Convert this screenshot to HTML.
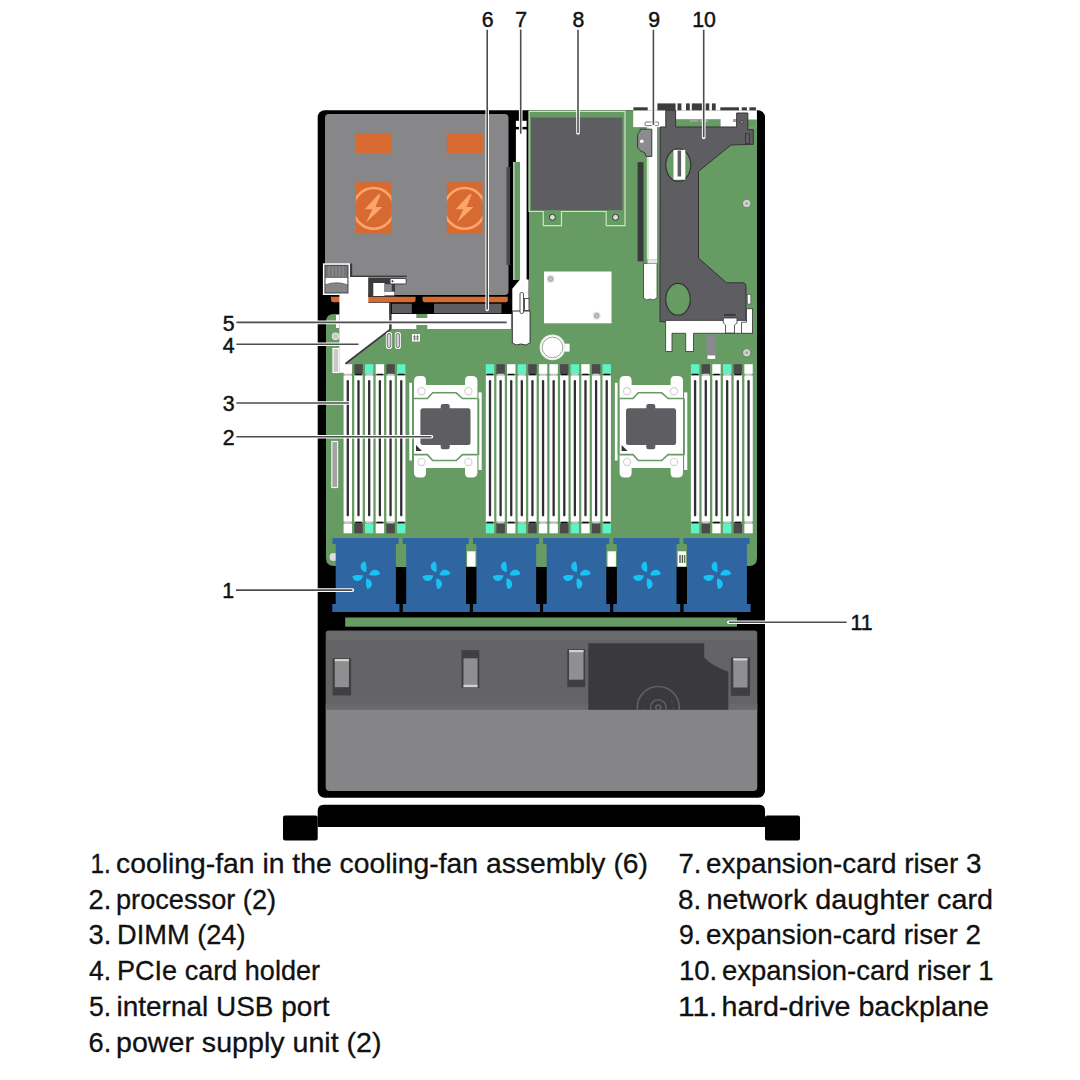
<!DOCTYPE html>
<html><head><meta charset="utf-8"><style>
html,body{margin:0;padding:0;background:#fff;}
body{width:1080px;height:1080px;overflow:hidden;font-family:"Liberation Sans",sans-serif;}
svg{display:block;}
</style></head><body>
<svg width="1080" height="1080" viewBox="0 0 1080 1080">
<rect width="1080" height="1080" fill="#fff"/>
<rect x="317.7" y="110.3" width="447.3" height="687.5" rx="7" fill="#000"/>
<rect x="529" y="110.3" width="228" height="210" fill="#679b64"/>
<path d="M326 322 Q326 314 334 314 L757 314 L757 558 Q757 566 749 566 L334 566 Q326 566 326 558 Z" fill="#679b64"/>
<rect x="325" y="114" width="183.5" height="181" rx="4" fill="#878689"/>
<rect x="506.50" y="167.00" width="3.50" height="98.00" fill="#4a4a4c" />
<rect x="355.80" y="133.00" width="36.00" height="20.00" fill="#d66a30" />
<rect x="355.80" y="182.20" width="35.60" height="51.40" fill="#d66a30" />
<clipPath id="c355"><rect x="355.8" y="182.2" width="35.6" height="51.4"/></clipPath>
<circle cx="373.7" cy="208.4" r="20.3" fill="none" stroke="#fba56d" stroke-width="2.5" clip-path="url(#c355)"/>
<polygon points="378.3,194.6 380.7,194.3 375.5,206.9 382.4,206.9 366.1,222.5 372.3,209.2 364.7,209.2" fill="#fba56d"/>
<rect x="446.80" y="133.00" width="36.00" height="20.00" fill="#d66a30" />
<rect x="446.80" y="182.20" width="35.60" height="51.40" fill="#d66a30" />
<clipPath id="c446"><rect x="446.8" y="182.2" width="35.6" height="51.4"/></clipPath>
<circle cx="464.7" cy="208.4" r="20.3" fill="none" stroke="#fba56d" stroke-width="2.5" clip-path="url(#c446)"/>
<polygon points="469.3,194.6 471.7,194.3 466.5,206.9 473.4,206.9 457.1,222.5 463.3,209.2 455.7,209.2" fill="#fba56d"/>
<path d="M331 296.7 L415.6 296.7 L415.6 300 Q415.6 302.3 413 302.3 L333.5 302.3 Q331 302.3 331 300 Z" fill="#d66a30"/>
<path d="M422.5 296.7 L507.8 296.7 L507.8 300 Q507.8 302.3 505 302.3 L425 302.3 Q422.5 302.3 422.5 300 Z" fill="#d66a30"/>
<rect x="391.90" y="303.70" width="20.00" height="9.60" fill="#5e5d61" />
<rect x="434.00" y="303.70" width="67.50" height="9.60" fill="#5e5d61" />
<rect x="391.90" y="314.00" width="119.00" height="15.00" fill="#fff" />
<rect x="416.30" y="314.00" width="11.00" height="4.00" fill="#679b64" />
<rect x="416.30" y="325.00" width="11.00" height="4.00" fill="#679b64" />
<path d="M339.4 276.7 L368.3 276.7 L368.3 302.8 L389.4 302.8 L389.4 329.4 L346.1 362.8 L346.1 372.8 L339.4 372.8 Z" fill="#fff"/>
<path d="M390.2 302.8 L390.2 329.4 L346.1 363.2 L346.1 372" stroke="#3c3c3e" stroke-width="1.8" fill="none"/>
<rect x="322.90" y="263.30" width="27.10" height="31.70" fill="#fff" />
<rect x="324.40" y="264.80" width="24.10" height="28.70" fill="#505052" />
<rect x="325.60" y="266.00" width="21.70" height="26.30" fill="#767678" />
<rect x="328.50" y="266.50" width="1.20" height="10.00" fill="#8e8e90" />
<rect x="332.00" y="266.50" width="1.20" height="10.00" fill="#8e8e90" />
<rect x="335.50" y="266.50" width="1.20" height="10.00" fill="#8e8e90" />
<rect x="339.00" y="266.50" width="1.20" height="10.00" fill="#8e8e90" />
<rect x="342.50" y="266.50" width="1.20" height="10.00" fill="#8e8e90" />
<path d="M325.6 277.9 L347.3 277.9 L347.3 284.2 Q336.5 280.2 325.6 284.2 Z" fill="#fff"/>
<path d="M325.6 285.4 Q336.5 281.4 347.3 285.4 L347.3 292.3 L325.6 292.3 Z" fill="#858587"/>
<rect x="350.00" y="263.50" width="2.20" height="12.50" fill="#3c3c3e" />
<rect x="350.00" y="275.60" width="56.70" height="1.40" fill="#3c3c3e" />
<rect x="368.30" y="278.00" width="26.70" height="18.70" fill="#3c3c3e" />
<rect x="373.30" y="283.00" width="11.20" height="13.00" fill="#fff" />
<rect x="384.30" y="291.70" width="10.00" height="3.60" fill="#fff" />
<rect x="384.30" y="284.20" width="7.50" height="7.50" fill="#8a8a8c" />
<rect x="390" y="278.4" width="16.2" height="5.6" rx="1.5" fill="#fff" stroke="#3c3c3e" stroke-width="1"/>
<circle cx="392.5" cy="281.2" r="1" fill="#3c3c3e"/>
<rect x="333" y="348.5" width="5.8" height="24" fill="#c8c8c8" stroke="#fff" stroke-width="1.2"/>
<rect x="331.8" y="441.5" width="5.8" height="46" fill="#a4a4a6" stroke="#f0f0f0" stroke-width="1.2"/>
<circle cx="335.6" cy="336.2" r="3.2" fill="#c8c8c8" stroke="#e8e8e8" stroke-width="1.2"/>
<rect x="336.00" y="315.00" width="3.00" height="13.00" fill="#fff" />
<circle cx="333.5" cy="557" r="4" fill="#ddd"/>
<rect x="385.9" y="332" width="6.2" height="17" rx="3.1" fill="#fff"/>
<rect x="387.2" y="333.5" width="3.6" height="14" rx="1.8" fill="#d6d0d6" stroke="#555" stroke-width="0.8"/>
<rect x="394.8" y="332" width="6.2" height="17" rx="3.1" fill="#fff"/>
<rect x="396.1" y="333.5" width="3.6" height="14" rx="1.8" fill="#d6d0d6" stroke="#555" stroke-width="0.8"/>
<rect x="412" y="334" width="8" height="7.5" fill="#fff"/>
<path d="M414.5 335 L414.5 340.5 M417.5 335 L417.5 340.5 M413 336.8 L419 336.8 M413 339 L419 339" stroke="#666" stroke-width="0.8"/>
<rect x="515.90" y="120.80" width="10.70" height="6.10" fill="#fff" />
<rect x="515.90" y="129.40" width="10.70" height="32.60" fill="#fff" />
<rect x="520.00" y="162.00" width="6.60" height="130.00" fill="#fff" />
<rect x="513.30" y="162.00" width="6.70" height="118.00" fill="#679b64" />
<rect x="513.30" y="162.00" width="1.20" height="118.00" fill="#cfe8c8" />
<path d="M520 279.5 L512.3 288.7 L512.3 312 L528.6 312 L528.6 279.5 Z" fill="#fff"/>
<path d="M512.3 311 L530.1 311 L530.1 343 Q526 346.5 521 344 Q516 346.5 512.3 343 Z" fill="#fff" stroke="#333" stroke-width="1"/>
<rect x="520" y="292.5" width="3.5" height="21" rx="1.5" fill="#fff" stroke="#444" stroke-width="0.9"/>
<rect x="524.5" y="298.5" width="4.5" height="12" fill="#fff" stroke="#444" stroke-width="0.9"/>
<path d="M529 111.4 L625 111.4 L625 225.7 L606.2 225.7 L606.2 211.5 L561.5 211.5 L561.5 225.7 L543.3 225.7 L543.3 211.5 L529 211.5 Z" fill="#679b64" stroke="#c9e7c2" stroke-width="1.2"/>
<rect x="531.00" y="117.50" width="91.40" height="92.70" fill="#5e5d61" />
<circle cx="552.4" cy="217.3" r="3" fill="#ddd" stroke="#333" stroke-width="1"/>
<circle cx="615.5" cy="217.3" r="3" fill="#ddd" stroke="#333" stroke-width="1"/>
<rect x="544.00" y="271.50" width="67.50" height="51.80" fill="#fff" />
<circle cx="550.6" cy="278.9" r="4" fill="#e2e2e2"/>
<circle cx="550.6" cy="278.9" r="2.2" fill="#c4c4c4" stroke="#8a8a8a" stroke-width="0.7"/>
<circle cx="596.7" cy="315.7" r="4" fill="#e2e2e2"/>
<circle cx="596.7" cy="315.7" r="2.2" fill="#c4c4c4" stroke="#8a8a8a" stroke-width="0.7"/>
<rect x="563.50" y="343.70" width="6.10" height="7.90" fill="#fff" />
<circle cx="552.5" cy="347.4" r="12.3" fill="#fff" stroke="#e2f2de" stroke-width="1.2"/>
<circle cx="552.5" cy="347.4" r="10.3" fill="none" stroke="#a0a0a0" stroke-width="1"/>
<rect x="637.60" y="162.20" width="5.90" height="99.20" fill="#3a3a3c" />
<rect x="646.80" y="121.40" width="1.50" height="138.00" fill="#cfe8c8" />
<rect x="648.30" y="121.40" width="8.80" height="138.00" fill="#fff" />
<rect x="657.10" y="121.40" width="1.40" height="138.00" fill="#8a8a8c" />
<path d="M643.5 263.3 L657.1 263.3 L657.1 298 Q653 301.5 650 299 Q646.5 301.5 643.5 298 Z" fill="#fff" stroke="#444" stroke-width="0.9"/>
<rect x="647.50" y="259.40" width="9.60" height="4.00" fill="#e8e8e8" />
<rect x="633.20" y="110.30" width="123.60" height="16.80" fill="#fff" />
<rect x="675.60" y="119.20" width="45.00" height="7.90" fill="#679b64" />
<rect x="741.00" y="119.50" width="15.80" height="7.60" fill="#679b64" />
<rect x="657.40" y="103.40" width="18.20" height="6.90" fill="#3c3c3e" />
<rect x="677.50" y="103.40" width="3.90" height="6.90" fill="#3c3c3e" />
<rect x="686.00" y="103.40" width="3.80" height="6.90" fill="#3c3c3e" />
<rect x="691.80" y="103.40" width="12.20" height="6.90" fill="#3c3c3e" />
<rect x="705.40" y="103.40" width="3.90" height="6.90" fill="#3c3c3e" />
<rect x="711.90" y="103.40" width="3.80" height="6.90" fill="#3c3c3e" />
<rect x="633.40" y="107.30" width="14.30" height="3.00" fill="#3c3c3e" />
<rect x="720.30" y="107.30" width="18.70" height="3.00" fill="#3c3c3e" />
<rect x="741.70" y="107.30" width="5.20" height="3.00" fill="#3c3c3e" />
<rect x="749.40" y="107.30" width="6.60" height="3.00" fill="#3c3c3e" />
<rect x="690.00" y="119.00" width="8.00" height="3.00" fill="#a0a0a0" />
<rect x="700.00" y="119.00" width="8.00" height="3.00" fill="#a0a0a0" />
<rect x="733.00" y="119.00" width="8.00" height="3.00" fill="#a0a0a0" />
<path d="M640 129.2 L651.8 129.2 L651.8 156.4 L646 156.4 L645 153 L640 150.5 Q637.6 149 637.6 146 L637.6 136 Q637.6 133 640 131.5 Z" fill="#8c8c8e" stroke="#3a3a3c" stroke-width="1"/>
<circle cx="641.8" cy="141.2" r="1.8" fill="#fff"/>
<rect x="645" y="122" width="13.5" height="3.6" rx="1" fill="#fff" stroke="#555" stroke-width="0.8"/>
<path d="M660.3 127 L665.8 127 L665.8 110.3 L675.6 110.3 L675.6 127 L736.7 127 L736.7 113 L747.8 113 L747.8 129.7 L753.3 129.7 L753.3 144.3 L731 145 L698.5 171.4 L698.5 258.1 L726.6 282.8 L742.8 282.8 Q746 282.8 746 287 L746 321.7 L660 321.7 Z" fill="#5e5d61" stroke="#333" stroke-width="1"/>
<circle cx="742.1" cy="122" r="1.6" fill="#8a8a8a" stroke="#333" stroke-width="0.6"/>
<rect x="745.4" y="133.8" width="4.1" height="9.7" fill="none" stroke="#333" stroke-width="0.8"/>
<ellipse cx="678.3" cy="165.1" rx="12.5" ry="16.3" fill="#679b64" stroke="#333" stroke-width="1.2"/>
<rect x="673.50" y="149.90" width="11.80" height="29.80" fill="#fff" />
<rect x="677.60" y="150.50" width="3.50" height="26.00" fill="#5e5d61" />
<ellipse cx="678" cy="299.3" rx="12.3" ry="15.9" fill="#679b64" stroke="#333" stroke-width="1.2"/>
<path d="M665.6 320.4 L752.5 320.4 L752.5 333.3 L693.5 333.3 L693.5 351.5 L685.7 351.5 L685.7 333.3 L672 333.3 L672 351.5 L665.6 351.5 Z" fill="#fff" stroke="#333" stroke-width="0.8"/>
<rect x="706.50" y="334.60" width="9.70" height="20.80" fill="#8a8a8c" />
<rect x="707.50" y="355.40" width="7.70" height="3.50" fill="#fff" />
<path d="M746.5 308.7 L752.5 308.7 L752.5 333.3 L741.5 333.3 L741.5 322.2 L746.5 322.2 Z" fill="#fff" stroke="#333" stroke-width="0.8"/>
<path d="M723.3 318 L737 318 L737 323 L734.5 325 L734.5 333 L725.5 333 L725.5 325 L723.3 323 Z" fill="#fff" stroke="#333" stroke-width="0.8"/>
<rect x="723.5" y="313.2" width="12.5" height="3.3" fill="#3c3c3e" stroke="#777" stroke-width="0.5"/>
<rect x="747.3" y="294.5" width="3.5" height="9.5" fill="#fff" stroke="#555" stroke-width="0.6"/>
<circle cx="746.7" cy="352.8" r="4.2" fill="#cfcfcf" stroke="#4f7f4d" stroke-width="0.8"/>
<circle cx="746.7" cy="352.8" r="1.2" fill="#999"/>
<circle cx="746.7" cy="203.5" r="4.2" fill="#cfcfcf" stroke="#4f7f4d" stroke-width="0.8"/>
<circle cx="746.7" cy="203.5" r="1.2" fill="#999"/>
<rect x="343.60" y="364.20" width="8.40" height="9.70" fill="#ffffff" />
<rect x="344.40" y="373.8" width="6.80" height="1.8" rx="0.9" fill="#c9c9c9"/>
<rect x="343.60" y="375.50" width="8.40" height="146.20" fill="#fff" />
<rect x="346.65" y="380" width="2.3" height="136.5" rx="1.15" fill="#2f2e33"/>
<rect x="344.40" y="521.7" width="6.80" height="1.9" rx="0.9" fill="#c9c9c9"/>
<rect x="343.60" y="523.60" width="8.40" height="9.70" fill="#ffffff" />
<rect x="354.29" y="364.20" width="8.40" height="9.70" fill="#4a494c" />
<rect x="355.09" y="373.8" width="6.80" height="1.8" rx="0.9" fill="#111"/>
<rect x="354.29" y="375.50" width="8.40" height="146.20" fill="#fff" />
<rect x="357.34" y="380" width="2.3" height="136.5" rx="1.15" fill="#2f2e33"/>
<rect x="355.09" y="521.7" width="6.80" height="1.9" rx="0.9" fill="#111"/>
<rect x="354.29" y="523.60" width="8.40" height="9.70" fill="#4a494c" />
<rect x="364.98" y="364.20" width="8.40" height="9.70" fill="#5ef2c6" />
<rect x="365.78" y="373.8" width="6.80" height="1.8" rx="0.9" fill="#c9c9c9"/>
<rect x="364.98" y="375.50" width="8.40" height="146.20" fill="#fff" />
<rect x="368.03" y="380" width="2.3" height="136.5" rx="1.15" fill="#2f2e33"/>
<rect x="365.78" y="521.7" width="6.80" height="1.9" rx="0.9" fill="#c9c9c9"/>
<rect x="364.98" y="523.60" width="8.40" height="9.70" fill="#5ef2c6" />
<rect x="375.67" y="364.20" width="8.40" height="9.70" fill="#ffffff" />
<rect x="376.47" y="373.8" width="6.80" height="1.8" rx="0.9" fill="#111"/>
<rect x="375.67" y="375.50" width="8.40" height="146.20" fill="#fff" />
<rect x="378.72" y="380" width="2.3" height="136.5" rx="1.15" fill="#2f2e33"/>
<rect x="376.47" y="521.7" width="6.80" height="1.9" rx="0.9" fill="#111"/>
<rect x="375.67" y="523.60" width="8.40" height="9.70" fill="#ffffff" />
<rect x="386.36" y="364.20" width="8.40" height="9.70" fill="#4a494c" />
<rect x="387.16" y="373.8" width="6.80" height="1.8" rx="0.9" fill="#c9c9c9"/>
<rect x="386.36" y="375.50" width="8.40" height="146.20" fill="#fff" />
<rect x="389.41" y="380" width="2.3" height="136.5" rx="1.15" fill="#2f2e33"/>
<rect x="387.16" y="521.7" width="6.80" height="1.9" rx="0.9" fill="#c9c9c9"/>
<rect x="386.36" y="523.60" width="8.40" height="9.70" fill="#4a494c" />
<rect x="397.05" y="364.20" width="8.40" height="9.70" fill="#5ef2c6" />
<rect x="397.85" y="373.8" width="6.80" height="1.8" rx="0.9" fill="#111"/>
<rect x="397.05" y="375.50" width="8.40" height="146.20" fill="#fff" />
<rect x="400.10" y="380" width="2.3" height="136.5" rx="1.15" fill="#2f2e33"/>
<rect x="397.85" y="521.7" width="6.80" height="1.9" rx="0.9" fill="#111"/>
<rect x="397.05" y="523.60" width="8.40" height="9.70" fill="#5ef2c6" />
<rect x="485.80" y="364.20" width="8.40" height="9.70" fill="#5ef2c6" />
<rect x="486.60" y="373.8" width="6.80" height="1.8" rx="0.9" fill="#111"/>
<rect x="485.80" y="375.50" width="8.40" height="146.20" fill="#fff" />
<rect x="488.85" y="380" width="2.3" height="136.5" rx="1.15" fill="#2f2e33"/>
<rect x="486.60" y="521.7" width="6.80" height="1.9" rx="0.9" fill="#111"/>
<rect x="485.80" y="523.60" width="8.40" height="9.70" fill="#5ef2c6" />
<rect x="496.41" y="364.20" width="8.40" height="9.70" fill="#4a494c" />
<rect x="497.21" y="373.8" width="6.80" height="1.8" rx="0.9" fill="#c9c9c9"/>
<rect x="496.41" y="375.50" width="8.40" height="146.20" fill="#fff" />
<rect x="499.46" y="380" width="2.3" height="136.5" rx="1.15" fill="#2f2e33"/>
<rect x="497.21" y="521.7" width="6.80" height="1.9" rx="0.9" fill="#c9c9c9"/>
<rect x="496.41" y="523.60" width="8.40" height="9.70" fill="#4a494c" />
<rect x="507.02" y="364.20" width="8.40" height="9.70" fill="#ffffff" />
<rect x="507.82" y="373.8" width="6.80" height="1.8" rx="0.9" fill="#111"/>
<rect x="507.02" y="375.50" width="8.40" height="146.20" fill="#fff" />
<rect x="510.07" y="380" width="2.3" height="136.5" rx="1.15" fill="#2f2e33"/>
<rect x="507.82" y="521.7" width="6.80" height="1.9" rx="0.9" fill="#111"/>
<rect x="507.02" y="523.60" width="8.40" height="9.70" fill="#ffffff" />
<rect x="517.63" y="364.20" width="8.40" height="9.70" fill="#5ef2c6" />
<rect x="518.43" y="373.8" width="6.80" height="1.8" rx="0.9" fill="#c9c9c9"/>
<rect x="517.63" y="375.50" width="8.40" height="146.20" fill="#fff" />
<rect x="520.68" y="380" width="2.3" height="136.5" rx="1.15" fill="#2f2e33"/>
<rect x="518.43" y="521.7" width="6.80" height="1.9" rx="0.9" fill="#c9c9c9"/>
<rect x="517.63" y="523.60" width="8.40" height="9.70" fill="#5ef2c6" />
<rect x="528.24" y="364.20" width="8.40" height="9.70" fill="#4a494c" />
<rect x="529.04" y="373.8" width="6.80" height="1.8" rx="0.9" fill="#111"/>
<rect x="528.24" y="375.50" width="8.40" height="146.20" fill="#fff" />
<rect x="531.29" y="380" width="2.3" height="136.5" rx="1.15" fill="#2f2e33"/>
<rect x="529.04" y="521.7" width="6.80" height="1.9" rx="0.9" fill="#111"/>
<rect x="528.24" y="523.60" width="8.40" height="9.70" fill="#4a494c" />
<rect x="538.85" y="364.20" width="8.40" height="9.70" fill="#ffffff" />
<rect x="539.65" y="373.8" width="6.80" height="1.8" rx="0.9" fill="#c9c9c9"/>
<rect x="538.85" y="375.50" width="8.40" height="146.20" fill="#fff" />
<rect x="541.90" y="380" width="2.3" height="136.5" rx="1.15" fill="#2f2e33"/>
<rect x="539.65" y="521.7" width="6.80" height="1.9" rx="0.9" fill="#c9c9c9"/>
<rect x="538.85" y="523.60" width="8.40" height="9.70" fill="#ffffff" />
<rect x="549.46" y="364.20" width="8.40" height="9.70" fill="#ffffff" />
<rect x="550.26" y="373.8" width="6.80" height="1.8" rx="0.9" fill="#c9c9c9"/>
<rect x="549.46" y="375.50" width="8.40" height="146.20" fill="#fff" />
<rect x="552.51" y="380" width="2.3" height="136.5" rx="1.15" fill="#2f2e33"/>
<rect x="550.26" y="521.7" width="6.80" height="1.9" rx="0.9" fill="#c9c9c9"/>
<rect x="549.46" y="523.60" width="8.40" height="9.70" fill="#ffffff" />
<rect x="560.07" y="364.20" width="8.40" height="9.70" fill="#4a494c" />
<rect x="560.87" y="373.8" width="6.80" height="1.8" rx="0.9" fill="#111"/>
<rect x="560.07" y="375.50" width="8.40" height="146.20" fill="#fff" />
<rect x="563.12" y="380" width="2.3" height="136.5" rx="1.15" fill="#2f2e33"/>
<rect x="560.87" y="521.7" width="6.80" height="1.9" rx="0.9" fill="#111"/>
<rect x="560.07" y="523.60" width="8.40" height="9.70" fill="#4a494c" />
<rect x="570.68" y="364.20" width="8.40" height="9.70" fill="#5ef2c6" />
<rect x="571.48" y="373.8" width="6.80" height="1.8" rx="0.9" fill="#c9c9c9"/>
<rect x="570.68" y="375.50" width="8.40" height="146.20" fill="#fff" />
<rect x="573.73" y="380" width="2.3" height="136.5" rx="1.15" fill="#2f2e33"/>
<rect x="571.48" y="521.7" width="6.80" height="1.9" rx="0.9" fill="#c9c9c9"/>
<rect x="570.68" y="523.60" width="8.40" height="9.70" fill="#5ef2c6" />
<rect x="581.29" y="364.20" width="8.40" height="9.70" fill="#ffffff" />
<rect x="582.09" y="373.8" width="6.80" height="1.8" rx="0.9" fill="#111"/>
<rect x="581.29" y="375.50" width="8.40" height="146.20" fill="#fff" />
<rect x="584.34" y="380" width="2.3" height="136.5" rx="1.15" fill="#2f2e33"/>
<rect x="582.09" y="521.7" width="6.80" height="1.9" rx="0.9" fill="#111"/>
<rect x="581.29" y="523.60" width="8.40" height="9.70" fill="#ffffff" />
<rect x="591.90" y="364.20" width="8.40" height="9.70" fill="#4a494c" />
<rect x="592.70" y="373.8" width="6.80" height="1.8" rx="0.9" fill="#c9c9c9"/>
<rect x="591.90" y="375.50" width="8.40" height="146.20" fill="#fff" />
<rect x="594.95" y="380" width="2.3" height="136.5" rx="1.15" fill="#2f2e33"/>
<rect x="592.70" y="521.7" width="6.80" height="1.9" rx="0.9" fill="#c9c9c9"/>
<rect x="591.90" y="523.60" width="8.40" height="9.70" fill="#4a494c" />
<rect x="602.51" y="364.20" width="8.40" height="9.70" fill="#5ef2c6" />
<rect x="603.31" y="373.8" width="6.80" height="1.8" rx="0.9" fill="#111"/>
<rect x="602.51" y="375.50" width="8.40" height="146.20" fill="#fff" />
<rect x="605.56" y="380" width="2.3" height="136.5" rx="1.15" fill="#2f2e33"/>
<rect x="603.31" y="521.7" width="6.80" height="1.9" rx="0.9" fill="#111"/>
<rect x="602.51" y="523.60" width="8.40" height="9.70" fill="#5ef2c6" />
<rect x="690.90" y="364.20" width="8.40" height="9.70" fill="#5ef2c6" />
<rect x="691.70" y="373.8" width="6.80" height="1.8" rx="0.9" fill="#111"/>
<rect x="690.90" y="375.50" width="8.40" height="146.20" fill="#fff" />
<rect x="693.95" y="380" width="2.3" height="136.5" rx="1.15" fill="#2f2e33"/>
<rect x="691.70" y="521.7" width="6.80" height="1.9" rx="0.9" fill="#111"/>
<rect x="690.90" y="523.60" width="8.40" height="9.70" fill="#5ef2c6" />
<rect x="701.59" y="364.20" width="8.40" height="9.70" fill="#4a494c" />
<rect x="702.39" y="373.8" width="6.80" height="1.8" rx="0.9" fill="#c9c9c9"/>
<rect x="701.59" y="375.50" width="8.40" height="146.20" fill="#fff" />
<rect x="704.64" y="380" width="2.3" height="136.5" rx="1.15" fill="#2f2e33"/>
<rect x="702.39" y="521.7" width="6.80" height="1.9" rx="0.9" fill="#c9c9c9"/>
<rect x="701.59" y="523.60" width="8.40" height="9.70" fill="#4a494c" />
<rect x="712.28" y="364.20" width="8.40" height="9.70" fill="#ffffff" />
<rect x="713.08" y="373.8" width="6.80" height="1.8" rx="0.9" fill="#111"/>
<rect x="712.28" y="375.50" width="8.40" height="146.20" fill="#fff" />
<rect x="715.33" y="380" width="2.3" height="136.5" rx="1.15" fill="#2f2e33"/>
<rect x="713.08" y="521.7" width="6.80" height="1.9" rx="0.9" fill="#111"/>
<rect x="712.28" y="523.60" width="8.40" height="9.70" fill="#ffffff" />
<rect x="722.97" y="364.20" width="8.40" height="9.70" fill="#5ef2c6" />
<rect x="723.77" y="373.8" width="6.80" height="1.8" rx="0.9" fill="#c9c9c9"/>
<rect x="722.97" y="375.50" width="8.40" height="146.20" fill="#fff" />
<rect x="726.02" y="380" width="2.3" height="136.5" rx="1.15" fill="#2f2e33"/>
<rect x="723.77" y="521.7" width="6.80" height="1.9" rx="0.9" fill="#c9c9c9"/>
<rect x="722.97" y="523.60" width="8.40" height="9.70" fill="#5ef2c6" />
<rect x="733.66" y="364.20" width="8.40" height="9.70" fill="#4a494c" />
<rect x="734.46" y="373.8" width="6.80" height="1.8" rx="0.9" fill="#111"/>
<rect x="733.66" y="375.50" width="8.40" height="146.20" fill="#fff" />
<rect x="736.71" y="380" width="2.3" height="136.5" rx="1.15" fill="#2f2e33"/>
<rect x="734.46" y="521.7" width="6.80" height="1.9" rx="0.9" fill="#111"/>
<rect x="733.66" y="523.60" width="8.40" height="9.70" fill="#4a494c" />
<rect x="744.35" y="364.20" width="8.40" height="9.70" fill="#ffffff" />
<rect x="745.15" y="373.8" width="6.80" height="1.8" rx="0.9" fill="#c9c9c9"/>
<rect x="744.35" y="375.50" width="8.40" height="146.20" fill="#fff" />
<rect x="747.40" y="380" width="2.3" height="136.5" rx="1.15" fill="#2f2e33"/>
<rect x="745.15" y="521.7" width="6.80" height="1.9" rx="0.9" fill="#c9c9c9"/>
<rect x="744.35" y="523.60" width="8.40" height="9.70" fill="#ffffff" />
<rect x="409.30" y="382.80" width="2.70" height="77.70" fill="#fff" />
<rect x="478.50" y="392.40" width="3.20" height="77.60" fill="#fff" />
<path d="M414 381 Q414 376 419 376 L422 376 Q426 376 426 381 L426 385 L465 385 L465 381 Q465 376 469 376 L472 376 Q477.4 376 477.4 381 L477.4 472.5 Q477.4 477.5 472 477.5 L469 477.5 Q465 477.5 465 472.5 L465 468 L426 468 L426 472.5 Q426 477.5 422 477.5 L419 477.5 Q414 477.5 414 472.5 Z" fill="#fff"/>
<path d="M414 398.5 L427.4 398.5 L432.7 392.8 L456.1 392.8 L462.5 398.5 L477.4 398.5" stroke="#679b64" stroke-width="1.6" fill="none"/>
<path d="M414 454.6 L427.4 454.6 L432.7 460.5 L456.1 460.5 L462.5 454.6 L477.4 454.6" stroke="#679b64" stroke-width="1.6" fill="none"/>
<path d="M413 398.5 L413 455 M478.5 398.5 L478.5 455" stroke="#679b64" stroke-width="1.6" fill="none"/>
<circle cx="421.5" cy="391.3" r="3.6" fill="none" stroke="#d8cfd6" stroke-width="1.2"/>
<circle cx="468.4" cy="391.3" r="3.6" fill="none" stroke="#d8cfd6" stroke-width="1.2"/>
<circle cx="421.5" cy="462.1" r="3.6" fill="none" stroke="#d8cfd6" stroke-width="1.2"/>
<circle cx="468.4" cy="462.1" r="3.6" fill="none" stroke="#d8cfd6" stroke-width="1.2"/>
<path d="M422.9 408.3 L440.7 408.3 L440.7 406 Q440.7 404 442.7 404 L447.7 404 Q449.7 404 449.7 406 L449.7 408.3 L468.0 408.3 Q470.5 408.3 470.5 410.8 L470.5 442.5 Q470.5 445 468.0 445 L449.7 445 L449.7 447.3 Q449.7 449.3 447.7 449.3 L442.7 449.3 Q440.7 449.3 440.7 447.3 L440.7 445 L422.9 445 Q420.4 445 420.4 442.5 L420.4 410.8 Q420.4 408.3 422.9 408.3 Z" fill="#5e5d61"/>
<polygon points="416,445 416,451 422,451" fill="#3a2f3a"/>
<rect x="614.90" y="382.80" width="2.70" height="77.70" fill="#fff" />
<rect x="684.10" y="392.40" width="3.20" height="77.60" fill="#fff" />
<path d="M619.6 381 Q619.6 376 624.6 376 L627.6 376 Q631.6 376 631.6 381 L631.6 385 L670.6 385 L670.6 381 Q670.6 376 674.6 376 L677.6 376 Q683.0 376 683.0 381 L683.0 472.5 Q683.0 477.5 677.6 477.5 L674.6 477.5 Q670.6 477.5 670.6 472.5 L670.6 468 L631.6 468 L631.6 472.5 Q631.6 477.5 627.6 477.5 L624.6 477.5 Q619.6 477.5 619.6 472.5 Z" fill="#fff"/>
<path d="M619.6 398.5 L633.0 398.5 L638.3000000000001 392.8 L661.7 392.8 L668.1 398.5 L683.0 398.5" stroke="#679b64" stroke-width="1.6" fill="none"/>
<path d="M619.6 454.6 L633.0 454.6 L638.3000000000001 460.5 L661.7 460.5 L668.1 454.6 L683.0 454.6" stroke="#679b64" stroke-width="1.6" fill="none"/>
<path d="M618.6 398.5 L618.6 455 M684.1 398.5 L684.1 455" stroke="#679b64" stroke-width="1.6" fill="none"/>
<circle cx="627.1" cy="391.3" r="3.6" fill="none" stroke="#d8cfd6" stroke-width="1.2"/>
<circle cx="674.0" cy="391.3" r="3.6" fill="none" stroke="#d8cfd6" stroke-width="1.2"/>
<circle cx="627.1" cy="462.1" r="3.6" fill="none" stroke="#d8cfd6" stroke-width="1.2"/>
<circle cx="674.0" cy="462.1" r="3.6" fill="none" stroke="#d8cfd6" stroke-width="1.2"/>
<path d="M628.5 408.3 L646.3000000000001 408.3 L646.3000000000001 406 Q646.3000000000001 404 648.3000000000001 404 L653.3000000000001 404 Q655.3000000000001 404 655.3000000000001 406 L655.3000000000001 408.3 L673.6 408.3 Q676.1 408.3 676.1 410.8 L676.1 442.5 Q676.1 445 673.6 445 L655.3000000000001 445 L655.3000000000001 447.3 Q655.3000000000001 449.3 653.3000000000001 449.3 L648.3000000000001 449.3 Q646.3000000000001 449.3 646.3000000000001 447.3 L646.3000000000001 445 L628.5 445 Q626.0 445 626.0 442.5 L626.0 410.8 Q626.0 408.3 628.5 408.3 Z" fill="#5e5d61"/>
<polygon points="621.6,445 621.6,451 627.6,451" fill="#3a2f3a"/>
<path d="M332.5 538.1 L398.6 538.1 L398.6 544 L395.9 544 L395.9 604 L399.6 604 L399.6 612 L332.5 612 L332.5 604 L335.7 604 L335.7 544 L332.5 544 Z" fill="#2f66a1"/>
<path d="M402.7 538.1 L468.8 538.1 L468.8 544 L466.09999999999997 544 L466.09999999999997 604 L469.8 604 L469.8 612 L402.7 612 L402.7 604 L405.9 604 L405.9 544 L402.7 544 Z" fill="#2f66a1"/>
<path d="M472.9 538.1 L539.0 538.1 L539.0 544 L536.3 544 L536.3 604 L540.0 604 L540.0 612 L472.9 612 L472.9 604 L476.1 604 L476.1 544 L472.9 544 Z" fill="#2f66a1"/>
<path d="M543.1 538.1 L609.2 538.1 L609.2 544 L606.5 544 L606.5 604 L610.2 604 L610.2 612 L543.1 612 L543.1 604 L546.3 604 L546.3 544 L543.1 544 Z" fill="#2f66a1"/>
<path d="M613.3 538.1 L679.4000000000001 538.1 L679.4000000000001 544 L676.7 544 L676.7 604 L680.4000000000001 604 L680.4000000000001 612 L613.3 612 L613.3 604 L616.5 604 L616.5 544 L613.3 544 Z" fill="#2f66a1"/>
<path d="M683.5 538.1 L749.6 538.1 L749.6 544 L746.9 544 L746.9 604 L750.6 604 L750.6 612 L683.5 612 L683.5 604 L686.7 604 L686.7 544 L683.5 544 Z" fill="#2f66a1"/>
<rect x="332.5" y="604" width="3.3" height="8" fill="#2f66a1"/>
<rect x="400.00" y="538.10" width="2.20" height="8.00" fill="#679b64" />
<rect x="396.00" y="545.70" width="10.20" height="21.30" fill="#679b64" />
<rect x="396.00" y="567.00" width="10.20" height="37.00" fill="#000" />
<rect x="399.80" y="604.00" width="2.60" height="8.00" fill="#000" />
<rect x="470.20" y="538.10" width="2.20" height="8.00" fill="#679b64" />
<rect x="466.20" y="545.70" width="10.20" height="21.30" fill="#679b64" />
<rect x="467.10" y="551.30" width="8.40" height="15.20" fill="#fff" />
<rect x="466.20" y="567.00" width="10.20" height="37.00" fill="#000" />
<rect x="470.00" y="604.00" width="2.60" height="8.00" fill="#000" />
<rect x="540.40" y="538.10" width="2.20" height="8.00" fill="#679b64" />
<rect x="536.40" y="545.70" width="10.20" height="21.30" fill="#679b64" />
<rect x="536.40" y="567.00" width="10.20" height="37.00" fill="#000" />
<rect x="540.20" y="604.00" width="2.60" height="8.00" fill="#000" />
<rect x="610.60" y="538.10" width="2.20" height="8.00" fill="#679b64" />
<rect x="606.60" y="545.70" width="10.20" height="21.30" fill="#679b64" />
<rect x="607.50" y="551.30" width="8.40" height="15.20" fill="#fff" />
<rect x="606.60" y="567.00" width="10.20" height="37.00" fill="#000" />
<rect x="610.40" y="604.00" width="2.60" height="8.00" fill="#000" />
<rect x="680.80" y="538.10" width="2.20" height="8.00" fill="#679b64" />
<rect x="676.80" y="545.70" width="10.20" height="21.30" fill="#679b64" />
<rect x="677.70" y="551.30" width="8.40" height="15.20" fill="#fff" />
<rect x="679.30" y="555.00" width="1.40" height="8.00" fill="#555" />
<rect x="681.70" y="555.00" width="1.40" height="8.00" fill="#555" />
<rect x="684.10" y="555.00" width="1.20" height="8.00" fill="#555" />
<rect x="676.80" y="567.00" width="10.20" height="37.00" fill="#000" />
<rect x="680.60" y="604.00" width="2.60" height="8.00" fill="#000" />
<g transform="translate(366.2,575.3)"><g transform="rotate(0)"><path d="M-0.2 -3 C-7.8 -4.8 -6.8 -13.2 -1.2 -13.8 C0.6 -11 0.6 -6 -0.2 -3 Z" fill="#18c3f4"/></g><g transform="rotate(90)"><path d="M-0.2 -3 C-7.8 -4.8 -6.8 -13.2 -1.2 -13.8 C0.6 -11 0.6 -6 -0.2 -3 Z" fill="#18c3f4"/></g><g transform="rotate(180)"><path d="M-0.2 -3 C-7.8 -4.8 -6.8 -13.2 -1.2 -13.8 C0.6 -11 0.6 -6 -0.2 -3 Z" fill="#18c3f4"/></g><g transform="rotate(270)"><path d="M-0.2 -3 C-7.8 -4.8 -6.8 -13.2 -1.2 -13.8 C0.6 -11 0.6 -6 -0.2 -3 Z" fill="#18c3f4"/></g></g>
<g transform="translate(436.4,575.3)"><g transform="rotate(0)"><path d="M-0.2 -3 C-7.8 -4.8 -6.8 -13.2 -1.2 -13.8 C0.6 -11 0.6 -6 -0.2 -3 Z" fill="#18c3f4"/></g><g transform="rotate(90)"><path d="M-0.2 -3 C-7.8 -4.8 -6.8 -13.2 -1.2 -13.8 C0.6 -11 0.6 -6 -0.2 -3 Z" fill="#18c3f4"/></g><g transform="rotate(180)"><path d="M-0.2 -3 C-7.8 -4.8 -6.8 -13.2 -1.2 -13.8 C0.6 -11 0.6 -6 -0.2 -3 Z" fill="#18c3f4"/></g><g transform="rotate(270)"><path d="M-0.2 -3 C-7.8 -4.8 -6.8 -13.2 -1.2 -13.8 C0.6 -11 0.6 -6 -0.2 -3 Z" fill="#18c3f4"/></g></g>
<g transform="translate(506.6,575.3)"><g transform="rotate(0)"><path d="M-0.2 -3 C-7.8 -4.8 -6.8 -13.2 -1.2 -13.8 C0.6 -11 0.6 -6 -0.2 -3 Z" fill="#18c3f4"/></g><g transform="rotate(90)"><path d="M-0.2 -3 C-7.8 -4.8 -6.8 -13.2 -1.2 -13.8 C0.6 -11 0.6 -6 -0.2 -3 Z" fill="#18c3f4"/></g><g transform="rotate(180)"><path d="M-0.2 -3 C-7.8 -4.8 -6.8 -13.2 -1.2 -13.8 C0.6 -11 0.6 -6 -0.2 -3 Z" fill="#18c3f4"/></g><g transform="rotate(270)"><path d="M-0.2 -3 C-7.8 -4.8 -6.8 -13.2 -1.2 -13.8 C0.6 -11 0.6 -6 -0.2 -3 Z" fill="#18c3f4"/></g></g>
<g transform="translate(576.8,575.3)"><g transform="rotate(0)"><path d="M-0.2 -3 C-7.8 -4.8 -6.8 -13.2 -1.2 -13.8 C0.6 -11 0.6 -6 -0.2 -3 Z" fill="#18c3f4"/></g><g transform="rotate(90)"><path d="M-0.2 -3 C-7.8 -4.8 -6.8 -13.2 -1.2 -13.8 C0.6 -11 0.6 -6 -0.2 -3 Z" fill="#18c3f4"/></g><g transform="rotate(180)"><path d="M-0.2 -3 C-7.8 -4.8 -6.8 -13.2 -1.2 -13.8 C0.6 -11 0.6 -6 -0.2 -3 Z" fill="#18c3f4"/></g><g transform="rotate(270)"><path d="M-0.2 -3 C-7.8 -4.8 -6.8 -13.2 -1.2 -13.8 C0.6 -11 0.6 -6 -0.2 -3 Z" fill="#18c3f4"/></g></g>
<g transform="translate(647.0,575.3)"><g transform="rotate(0)"><path d="M-0.2 -3 C-7.8 -4.8 -6.8 -13.2 -1.2 -13.8 C0.6 -11 0.6 -6 -0.2 -3 Z" fill="#18c3f4"/></g><g transform="rotate(90)"><path d="M-0.2 -3 C-7.8 -4.8 -6.8 -13.2 -1.2 -13.8 C0.6 -11 0.6 -6 -0.2 -3 Z" fill="#18c3f4"/></g><g transform="rotate(180)"><path d="M-0.2 -3 C-7.8 -4.8 -6.8 -13.2 -1.2 -13.8 C0.6 -11 0.6 -6 -0.2 -3 Z" fill="#18c3f4"/></g><g transform="rotate(270)"><path d="M-0.2 -3 C-7.8 -4.8 -6.8 -13.2 -1.2 -13.8 C0.6 -11 0.6 -6 -0.2 -3 Z" fill="#18c3f4"/></g></g>
<g transform="translate(717.2,575.3)"><g transform="rotate(0)"><path d="M-0.2 -3 C-7.8 -4.8 -6.8 -13.2 -1.2 -13.8 C0.6 -11 0.6 -6 -0.2 -3 Z" fill="#18c3f4"/></g><g transform="rotate(90)"><path d="M-0.2 -3 C-7.8 -4.8 -6.8 -13.2 -1.2 -13.8 C0.6 -11 0.6 -6 -0.2 -3 Z" fill="#18c3f4"/></g><g transform="rotate(180)"><path d="M-0.2 -3 C-7.8 -4.8 -6.8 -13.2 -1.2 -13.8 C0.6 -11 0.6 -6 -0.2 -3 Z" fill="#18c3f4"/></g><g transform="rotate(270)"><path d="M-0.2 -3 C-7.8 -4.8 -6.8 -13.2 -1.2 -13.8 C0.6 -11 0.6 -6 -0.2 -3 Z" fill="#18c3f4"/></g></g>
<rect x="345.20" y="617.50" width="391.80" height="9.20" fill="#679b64" />
<path d="M325.7 633.5 Q325.7 630.5 328.7 630.5 L754.3 630.5 Q757.3 630.5 757.3 633.5 L757.3 710 L325.7 710 Z" fill="#646466"/>
<rect x="325.70" y="703.50" width="431.60" height="6.50" fill="#69696b" />
<rect x="327.00" y="631.50" width="429.00" height="8.50" fill="#6b6b6d" />
<path d="M325.7 709.8 L757.3 709.8 L757.3 787 Q757.3 791 753.3 791 L329.7 791 Q325.7 791 325.7 787 Z" fill="#858587"/>
<path d="M588.3 643.3 L704.2 643.3 L704.2 657.5 Q712 666 728.3 671.7 L728.3 709.8 L588.3 709.8 Z" fill="#3a3a3c"/>
<clipPath id="odc"><rect x="588" y="643" width="141" height="66.8"/></clipPath>
<g clip-path="url(#odc)" fill="none" stroke="#606062" stroke-width="1.6"><circle cx="658.3" cy="707.5" r="21"/><circle cx="658.3" cy="707.5" r="7.8"/><circle cx="658.3" cy="707.5" r="2.5"/><circle cx="658.3" cy="707.5" r="15" stroke-width="0.8" stroke-dasharray="3 40"/></g>
<rect x="332.60" y="658.30" width="18.50" height="37.10" fill="#3f3f41" />
<rect x="334.80" y="659.00" width="14.10" height="28.20" fill="#8f8f91" />
<rect x="334.80" y="659.00" width="14.10" height="2.20" fill="#d2d2d4" />
<rect x="461.50" y="650.20" width="17.80" height="37.60" fill="#3f3f41" />
<rect x="463.50" y="658.30" width="14.00" height="28.90" fill="#8f8f91" />
<rect x="463.50" y="684.80" width="14.00" height="2.40" fill="#d2d2d4" />
<rect x="567.30" y="649.20" width="17.80" height="37.90" fill="#3f3f41" />
<rect x="569.00" y="650.00" width="14.50" height="29.70" fill="#8f8f91" />
<rect x="569.00" y="650.00" width="14.50" height="2.20" fill="#d2d2d4" />
<rect x="730.80" y="657.50" width="19.20" height="38.30" fill="#3f3f41" />
<rect x="733.30" y="658.30" width="14.20" height="29.20" fill="#8f8f91" />
<rect x="733.30" y="658.30" width="14.20" height="2.20" fill="#d2d2d4" />
<path d="M317.7 827 L317.7 810.7 Q317.7 804.7 323.7 804.7 L759 804.7 Q765 804.7 765 810.7 L765 827 Z" fill="#000"/>
<rect x="283" y="815.4" width="34.7" height="25" rx="2" fill="#000"/>
<rect x="765" y="815.4" width="35" height="25" rx="2" fill="#000"/>
<path d="M487.2 29.8 L487.2 309.4" stroke="#fff" stroke-width="3.6" stroke-linecap="round"/>
<path d="M487.2 29.8 L487.2 309.4" stroke="#4d4d4f" stroke-width="1.6"/>
<path d="M520.7 29.5 L520.7 133.7" stroke="#fff" stroke-width="3.6" stroke-linecap="round"/>
<path d="M520.7 29.5 L520.7 133.7" stroke="#4d4d4f" stroke-width="1.6"/>
<path d="M578 29.8 L578 133" stroke="#fff" stroke-width="3.6" stroke-linecap="round"/>
<path d="M578 29.8 L578 133" stroke="#4d4d4f" stroke-width="1.6"/>
<path d="M653.4 29.8 L653.4 124.9" stroke="#fff" stroke-width="3.6" stroke-linecap="round"/>
<path d="M653.4 29.8 L653.4 124.9" stroke="#4d4d4f" stroke-width="1.6"/>
<path d="M703.7 29.8 L703.7 137.4" stroke="#fff" stroke-width="3.6" stroke-linecap="round"/>
<path d="M703.7 29.8 L703.7 137.4" stroke="#4d4d4f" stroke-width="1.6"/>
<path d="M236.4 322.4 L506.7 322.4" stroke="#fff" stroke-width="3.6" stroke-linecap="round"/>
<path d="M236.4 322.4 L506.7 322.4" stroke="#4d4d4f" stroke-width="1.6"/>
<path d="M236.4 344.2 L358.5 344.2" stroke="#fff" stroke-width="3.6" stroke-linecap="round"/>
<path d="M236.4 344.2 L358.5 344.2" stroke="#4d4d4f" stroke-width="1.6"/>
<path d="M236.4 403 L349 403" stroke="#fff" stroke-width="3.6" stroke-linecap="round"/>
<path d="M236.4 403 L349 403" stroke="#4d4d4f" stroke-width="1.6"/>
<path d="M236.4 436.7 L431.5 436.7" stroke="#fff" stroke-width="3.6" stroke-linecap="round"/>
<path d="M236.4 436.7 L431.5 436.7" stroke="#4d4d4f" stroke-width="1.6"/>
<path d="M236 590.1 L352.4 590.1" stroke="#fff" stroke-width="3.6" stroke-linecap="round"/>
<path d="M236 590.1 L352.4 590.1" stroke="#4d4d4f" stroke-width="1.6"/>
<path d="M728.9 622.2 L846.7 622.2" stroke="#fff" stroke-width="3.6" stroke-linecap="round"/>
<path d="M728.9 622.2 L846.7 622.2" stroke="#4d4d4f" stroke-width="1.6"/>
<text x="487.7" y="27.1" font-size="21.3" font-family="Liberation Sans, sans-serif" fill="#111" stroke="#111" stroke-width="0.45" text-anchor="middle">6</text>
<text x="521.3" y="27.1" font-size="21.3" font-family="Liberation Sans, sans-serif" fill="#111" stroke="#111" stroke-width="0.45" text-anchor="middle">7</text>
<text x="578.4" y="27.1" font-size="21.3" font-family="Liberation Sans, sans-serif" fill="#111" stroke="#111" stroke-width="0.45" text-anchor="middle">8</text>
<text x="654.2" y="27.1" font-size="21.3" font-family="Liberation Sans, sans-serif" fill="#111" stroke="#111" stroke-width="0.45" text-anchor="middle">9</text>
<text x="704.0" y="27.1" font-size="21.3" font-family="Liberation Sans, sans-serif" fill="#111" stroke="#111" stroke-width="0.45" text-anchor="middle">10</text>
<text x="228.8" y="330.5" font-size="21.3" font-family="Liberation Sans, sans-serif" fill="#111" stroke="#111" stroke-width="0.45" text-anchor="middle">5</text>
<text x="228.8" y="352.5" font-size="21.3" font-family="Liberation Sans, sans-serif" fill="#111" stroke="#111" stroke-width="0.45" text-anchor="middle">4</text>
<text x="228.8" y="411.2" font-size="21.3" font-family="Liberation Sans, sans-serif" fill="#111" stroke="#111" stroke-width="0.45" text-anchor="middle">3</text>
<text x="228.8" y="445.0" font-size="21.3" font-family="Liberation Sans, sans-serif" fill="#111" stroke="#111" stroke-width="0.45" text-anchor="middle">2</text>
<text x="228.2" y="597.9" font-size="21.3" font-family="Liberation Sans, sans-serif" fill="#111" stroke="#111" stroke-width="0.45" text-anchor="middle">1</text>
<text x="861.5" y="630.3" font-size="21.3" font-family="Liberation Sans, sans-serif" fill="#111" stroke="#111" stroke-width="0.45" text-anchor="middle">11</text>
<text x="90.50" y="872.7" font-size="28" font-family="Liberation Sans, sans-serif" fill="#111" stroke="#111" stroke-width="0.3" textLength="20.34" lengthAdjust="spacingAndGlyphs">1.</text>
<text x="116.00" y="872.7" font-size="28" font-family="Liberation Sans, sans-serif" fill="#111" stroke="#111" stroke-width="0.3" textLength="532.01" lengthAdjust="spacingAndGlyphs">cooling-fan in the cooling-fan assembly (6)</text>
<text x="88.50" y="908.5" font-size="28" font-family="Liberation Sans, sans-serif" fill="#111" stroke="#111" stroke-width="0.3" textLength="22.72" lengthAdjust="spacingAndGlyphs">2.</text>
<text x="116.00" y="908.5" font-size="28" font-family="Liberation Sans, sans-serif" fill="#111" stroke="#111" stroke-width="0.3" textLength="160.04" lengthAdjust="spacingAndGlyphs">processor (2)</text>
<text x="88.50" y="944.3" font-size="28" font-family="Liberation Sans, sans-serif" fill="#111" stroke="#111" stroke-width="0.3" textLength="22.72" lengthAdjust="spacingAndGlyphs">3.</text>
<text x="117.00" y="944.3" font-size="28" font-family="Liberation Sans, sans-serif" fill="#111" stroke="#111" stroke-width="0.3" textLength="128.55" lengthAdjust="spacingAndGlyphs">DIMM (24)</text>
<text x="89.00" y="980.1" font-size="28" font-family="Liberation Sans, sans-serif" fill="#111" stroke="#111" stroke-width="0.3" textLength="22.06" lengthAdjust="spacingAndGlyphs">4.</text>
<text x="117.00" y="980.1" font-size="28" font-family="Liberation Sans, sans-serif" fill="#111" stroke="#111" stroke-width="0.3" textLength="203.01" lengthAdjust="spacingAndGlyphs">PCIe card holder</text>
<text x="89.00" y="1016.3" font-size="28" font-family="Liberation Sans, sans-serif" fill="#111" stroke="#111" stroke-width="0.3" textLength="22.17" lengthAdjust="spacingAndGlyphs">5.</text>
<text x="116.50" y="1016.3" font-size="28" font-family="Liberation Sans, sans-serif" fill="#111" stroke="#111" stroke-width="0.3" textLength="213.00" lengthAdjust="spacingAndGlyphs">internal USB port</text>
<text x="88.50" y="1051.9" font-size="28" font-family="Liberation Sans, sans-serif" fill="#111" stroke="#111" stroke-width="0.3" textLength="22.72" lengthAdjust="spacingAndGlyphs">6.</text>
<text x="116.00" y="1051.9" font-size="28" font-family="Liberation Sans, sans-serif" fill="#111" stroke="#111" stroke-width="0.3" textLength="265.52" lengthAdjust="spacingAndGlyphs">power supply unit (2)</text>
<text x="678.50" y="872.7" font-size="28" font-family="Liberation Sans, sans-serif" fill="#111" stroke="#111" stroke-width="0.3" textLength="22.93" lengthAdjust="spacingAndGlyphs">7.</text>
<text x="706.00" y="872.7" font-size="28" font-family="Liberation Sans, sans-serif" fill="#111" stroke="#111" stroke-width="0.3" textLength="275.50" lengthAdjust="spacingAndGlyphs">expansion-card riser 3</text>
<text x="678.00" y="908.5" font-size="28" font-family="Liberation Sans, sans-serif" fill="#111" stroke="#111" stroke-width="0.3" textLength="23.22" lengthAdjust="spacingAndGlyphs">8.</text>
<text x="706.50" y="908.5" font-size="28" font-family="Liberation Sans, sans-serif" fill="#111" stroke="#111" stroke-width="0.3" textLength="286.52" lengthAdjust="spacingAndGlyphs">network daughter card</text>
<text x="679.00" y="944.3" font-size="28" font-family="Liberation Sans, sans-serif" fill="#111" stroke="#111" stroke-width="0.3" textLength="22.17" lengthAdjust="spacingAndGlyphs">9.</text>
<text x="706.00" y="944.3" font-size="28" font-family="Liberation Sans, sans-serif" fill="#111" stroke="#111" stroke-width="0.3" textLength="275.01" lengthAdjust="spacingAndGlyphs">expansion-card riser 2</text>
<text x="679.00" y="980.1" font-size="28" font-family="Liberation Sans, sans-serif" fill="#111" stroke="#111" stroke-width="0.3" textLength="38.25" lengthAdjust="spacingAndGlyphs">10.</text>
<text x="722.00" y="980.1" font-size="28" font-family="Liberation Sans, sans-serif" fill="#111" stroke="#111" stroke-width="0.3" textLength="271.50" lengthAdjust="spacingAndGlyphs">expansion-card riser 1</text>
<text x="678.00" y="1016.3" font-size="28" font-family="Liberation Sans, sans-serif" fill="#111" stroke="#111" stroke-width="0.3" textLength="39.38" lengthAdjust="spacingAndGlyphs">11.</text>
<text x="721.50" y="1016.3" font-size="28" font-family="Liberation Sans, sans-serif" fill="#111" stroke="#111" stroke-width="0.3" textLength="267.52" lengthAdjust="spacingAndGlyphs">hard-drive backplane</text>
</svg>
</body></html>
